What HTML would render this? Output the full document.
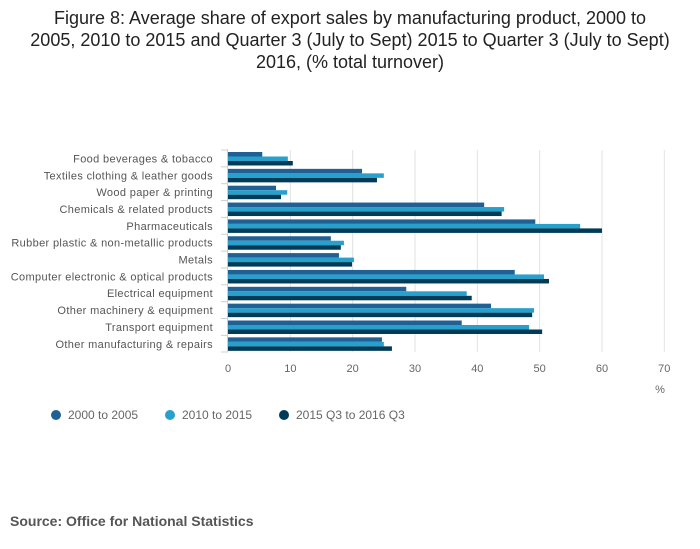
<!DOCTYPE html>
<html><head><meta charset="utf-8"><style>
body{margin:0;background:#fff;font-family:"Liberation Sans",sans-serif}
#wrap{position:relative;width:700px;height:549px;overflow:hidden}
#title{position:absolute;left:30px;top:7px;width:640px;text-align:center;font-size:18px;line-height:22px;color:#222}
#source{position:absolute;left:10px;top:513px;font-size:14px;font-weight:bold;color:#555}
</style></head><body>
<div id="wrap">
<div id="title">Figure 8: Average share of export sales by manufacturing product, 2000 to 2005, 2010 to 2015 and Quarter 3 (July to Sept) 2015 to Quarter 3 (July to Sept) 2016, (% total turnover)</div>
<svg id="chart" width="700" height="549" style="position:absolute;left:0;top:0"></svg>
<div id="source">Source: Office for National Statistics</div>
</div>
<script>
const categories=["Food beverages & tobacco","Textiles clothing & leather goods","Wood paper & printing","Chemicals & related products","Pharmaceuticals","Rubber plastic & non-metallic products","Metals","Computer electronic & optical products","Electrical equipment","Other machinery & equipment","Transport equipment","Other manufacturing & repairs"];
const series2000=[5.5,21.5,7.7,41.1,49.3,16.5,17.8,46.0,28.6,42.2,37.5,24.7];
const series2010=[9.6,25.0,9.5,44.3,56.5,18.6,20.2,50.7,38.3,49.1,48.3,25.0];
const series2015=[10.4,23.9,8.5,43.9,60.0,18.1,19.9,51.5,39.1,48.8,50.4,26.3];
const seriesNames=["2000 to 2005","2010 to 2015","2015 Q3 to 2016 Q3"];
const ticks=[0,10,20,30,40,50,60,70];
const colors=["#206095","#27a0cc","#003c57"];
const svg=document.getElementById('chart');
const NS="http://www.w3.org/2000/svg";
const x0=228,pxPer=6.233,top0=150,bandH=16.85,barH=4.5;
function xs(v){return x0+v*pxPer;}
function yb(i){return top0+i*bandH;}
function mk(t,a){const e=document.createElementNS(NS,t);for(const k in a)e.setAttribute(k,a[k]);svg.appendChild(e);return e;}
ticks.forEach(t=>{
 if(t>0){const g=mk('line',{x1:xs(t),x2:xs(t),y1:150,y2:352,stroke:'#e2e2e2','stroke-width':1});
 
 }
 const tl=mk('text',{x:xs(t),y:372,'text-anchor':'middle','font-size':11,fill:'#666'});tl.textContent=t;
 
 
});
const pct=mk('text',{x:660,y:393,'text-anchor':'middle','font-size':11,fill:'#666'});pct.textContent='%';


const ax=mk('line',{x1:227.5,x2:227.5,y1:149,y2:352,stroke:'#c8d0e0','stroke-width':1});


const all=[series2000,series2010,series2015];
categories.forEach((c,i)=>{
 const y=yb(i);
 const tk=mk('line',{x1:221,x2:228,y1:y,y2:y,stroke:'#c8d0e0'});
 
 
 const lb=mk('text',{x:213,y:y+bandH/2+4,'text-anchor':'end','font-size':11,'letter-spacing':0.35,fill:'#555'});lb.textContent=c;
 
 
 all.forEach((s,j)=>{
  const r=mk('rect',{x:x0,y:y+2+j*barH,width:xs(s[i])-x0,height:barH,fill:colors[j]});
  
  
 });
});
const sub=mk('line',{x1:221,x2:228,y1:352,y2:352,stroke:'#c8d0e0'});


const lx=[56,170,284];
seriesNames.forEach((n,j)=>{
 const c=mk('circle',{cx:lx[j],cy:415,r:5,fill:colors[j]});
 
 
 const t=mk('text',{x:lx[j]+12,y:419,'font-size':12,fill:'#666'});t.textContent=n;
 
 
});
</script>
</body></html>
